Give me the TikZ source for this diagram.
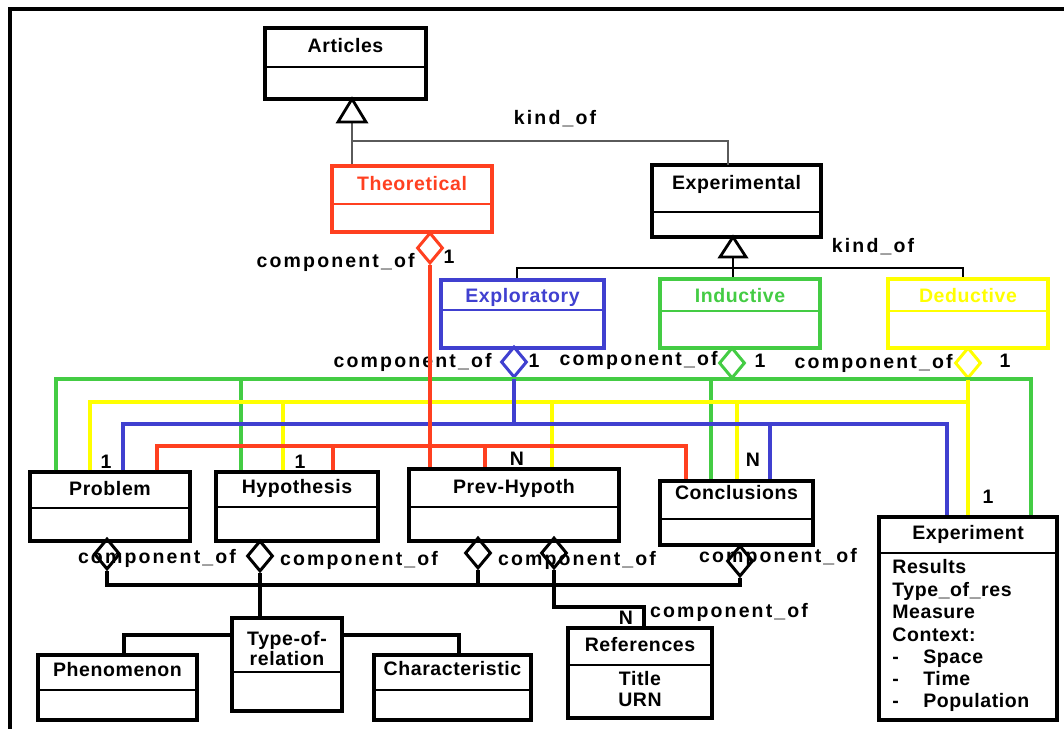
\documentclass[tikz,border=0pt]{standalone}
\usepackage{fontspec}
\setmainfont{Liberation Sans}
\newfontfamily\tfont{Liberation Sans}[LetterSpace=3]
\newfontfamily\lfont{Liberation Sans}[LetterSpace=11]
\usetikzlibrary{shapes.geometric,fit,calc}
\definecolor{ured}{HTML}{FF4020}
\definecolor{ublue}{HTML}{4040D0}
\definecolor{ugreen}{HTML}{44CC44}
\definecolor{uyellow}{HTML}{FFFF00}
\definecolor{ugray}{HTML}{5A5A5A}
\tikzset{
 ttl/.style={font=\tfont\bfseries\fontsize{11.1}{12}\selectfont, inner sep=0pt, text height=7.8pt, text depth=2pt},
 lbl/.style={font=\lfont\bfseries\fontsize{11.1}{12}\selectfont, inner sep=0pt, text height=7.8pt, text depth=2pt},
 ubox/.style={draw, inner sep=0pt, line width=1.9pt},
 divl/.style={line width=1.6pt},
 agg/.style={diamond, draw, inner sep=0pt, minimum width=0.52cm, minimum height=0.62cm, line width=1.7pt},
 con/.style={line width=1.8pt, line join=miter},
 gen/.style={line width=1.3pt, line join=miter},
 tri/.style={line width=1.6pt, fill=white, line join=miter}
}
% name, x1, y1, x2, y2, ydiv, colour, title y, title
\newcommand\umlbox[9]{%
 \coordinate (#1-a) at (#2,#3); \coordinate (#1-b) at (#4,#5);
 \node[ubox, draw=#7, fit=(#1-a)(#1-b)] (#1) {};
 \draw[divl, #7] (#2,#6) -- (#4,#6);
 \node[ttl, text=#7] (#1-t) at ({(#2+#4)/2},#8) {#9};
}
% colour, x, y of bus, target node
\newcommand\branch[4]{%
 \coordinate (b-#1-#2) at (#2,#3);
 \draw[con, #1] (b-#1-#2) -- (b-#1-#2 |- #4.north);
}
\begin{document}
\begin{tikzpicture}[x=0.02cm, y=-0.02cm]
\useasboundingbox (0,0) rectangle (1064,729);
% frame
\draw[line width=1.9pt] (10,729) -- (10,9) -- (1064,9);

% boxes
\umlbox{art}{265}{28}{426}{99}{67}{black}{47}{Articles}
\umlbox{theo}{332}{166}{492}{232}{204}{ured}{185}{Theoretical}
\umlbox{exp}{652}{165}{821}{237}{212}{black}{184}{Experimental}
\umlbox{expl}{441}{280}{604}{348}{310}{ublue}{297}{Exploratory}
\umlbox{ind}{660}{279}{820}{348}{311}{ugreen}{297}{Inductive}
\umlbox{ded}{888}{279}{1048}{348}{311}{uyellow}{297}{Deductive}
\umlbox{prob}{30}{472}{190}{541}{508}{black}{490}{Problem}
\umlbox{hyp}{216}{472}{378}{541}{507}{black}{488}{Hypothesis}
\umlbox{prev}{409}{469}{619}{541}{507}{black}{488}{Prev-Hypoth}
\umlbox{conc}{660}{481}{813}{545}{519}{black}{494}{Conclusions}
\umlbox{expt}{879}{517}{1057}{720}{553}{black}{534}{Experiment}
\umlbox{typ}{232}{618}{342}{711}{672}{black}{650}{}
\umlbox{phen}{38}{655}{197}{720}{690}{black}{671}{Phenomenon}
\umlbox{char}{374}{655}{531}{720}{690}{black}{670}{Characteristic}
\umlbox{refs}{568}{628}{712}{718}{665}{black}{646}{References}
\node[ttl] (typ-1) at (287,640) {Type-of-};
\node[ttl] (typ-2) at (287,660) {relation};
\node[ttl] (refs-1) at (640,680) {Title};
\node[ttl] (refs-2) at (640,701) {URN};
\foreach \t/\y [count=\i] in {Results/568, Type\_of\_res/591, Measure/613, Context:/636}
  \node[ttl, anchor=west] (expt-a\i) at (892,\y) {\t};
\foreach \t/\y [count=\i] in {Space/658, Time/680, Population/702}{
  \node[ttl, anchor=west] (expt-d\i) at (892,\y) {-};
  \node[ttl, anchor=west] (expt-b\i) at (923,\y) {\t};
}

% generalisation: Articles
\coordinate (g1) at (352,122);
\coordinate (g1h) at (352,141);
\draw[gen, ugray] (g1) -- (g1 |- theo.north);
\draw[gen, ugray] (g1h) -- (g1h -| 728,0) -- (728,165);
\draw[tri] (352,99) -- (366,122) -- (338,122) -- cycle;
\node[lbl] (k1) at (555,119) {kind\_of};
% generalisation: Experimental
\coordinate (g2) at (733,257);
\coordinate (g2l) at (517,268);
\coordinate (g2r) at (963,268);
\draw[gen] (g2) -- (g2 |- ind.north);
\draw[gen] (g2l |- expl.north) -- (g2l) -- (g2r) -- (g2r |- ded.north);
\draw[tri] (733,237) -- (746,257) -- (720,257) -- cycle;
\node[lbl] (k2) at (873,247) {kind\_of};

% aggregation diamonds (top)
\node[agg, draw=ured] (dT) at (430,248) {};
\node[agg, draw=ublue] (dE) at (514,362) {};
\node[agg, draw=ugreen] (dI) at (732,363) {};
\node[agg, draw=uyellow] (dD) at (968,363) {};
\node[lbl, anchor=east] (cT) at (415,262) {component\_of};
\node[lbl] (mT) at (449,258) {1};
\node[lbl, anchor=east] (cE) at (492,362) {component\_of};
\node[lbl] (mE) at (534,362) {1};
\node[lbl, anchor=east] (cI) at (718,360) {component\_of};
\node[lbl] (mI) at (760,362) {1};
\node[lbl, anchor=east] (cD) at (953,363) {component\_of};
\node[lbl] (mD) at (1005,362) {1};

% green bus
\coordinate (gl) at (56,379);
\coordinate (gr) at (1031,379);
\draw[con, ugreen] (gl |- prob.north) -- (gl) -- (gr) -- (gr |- expt.north);
\draw[con, ugreen] (dI.south) -- (dI.south |- gl);
\branch{ugreen}{241}{379}{hyp}
\branch{ugreen}{711}{379}{conc}
% yellow bus
\coordinate (yl) at (90,402);
\draw[con, uyellow] (yl |- prob.north) -- (yl) -- (yl -| dD.south);
\draw[con, uyellow] (dD.south) -- (dD.south |- expt.north);
\branch{uyellow}{283}{402}{hyp}
\branch{uyellow}{552}{402}{prev}
\branch{uyellow}{737}{402}{conc}
% blue bus
\coordinate (bl) at (123,424);
\coordinate (br) at (947,424);
\draw[con, ublue] (bl |- prob.north) -- (bl) -- (br) -- (br |- expt.north);
\draw[con, ublue] (dE.south) -- (dE.south |- bl);
\branch{ublue}{770}{424}{conc}
% red bus
\coordinate (rl) at (157,446);
\coordinate (rr) at (686,446);
\draw[con, ured] (rl |- prob.north) -- (rl) -- (rr) -- (rr |- conc.north);
\draw[con, ured] (dT.south) -- (dT.south |- prev.north);
\branch{ured}{333}{446}{hyp}
\branch{ured}{485}{446}{prev}
% multiplicities
\node[lbl] (m1) at (106,463) {1};
\node[lbl] (m2) at (300,463) {1};
\node[lbl] (m3) at (517,460) {N};
\node[lbl] (m4) at (753,461) {N};
\node[lbl] (m5) at (988,498) {1};

% bottom aggregation
\node[agg] (dP) at (107,554) {};
\node[agg] (dH) at (260,556) {};
\node[agg] (dPa) at (478,553) {};
\node[agg] (dPb) at (554,553) {};
\node[agg] (dC) at (740,561) {};
\coordinate (kb) at (0,585);
\draw[con] (dP.south) -- (dP.south |- kb) -- (dC.south |- kb) -- (dC.south);
\draw[con] (dPa.south) -- (dPa.south |- kb);
\draw[con] (dH.south) -- (dH.south |- typ.north);
\coordinate (rf) at (644,607);
\draw[con] (dPb.south) -- (dPb.south |- rf) -- (rf) -- (rf |- refs.north);
\coordinate (t1) at (124,635);
\coordinate (t2) at (459,635);
\draw[con] (t1 |- phen.north) -- (t1) -- (t1 -| typ.west);
\draw[con] (t2 |- char.north) -- (t2) -- (t2 -| typ.east);
\node[lbl] (c1) at (157,558) {component\_of};
\node[lbl] (c2) at (359,560) {component\_of};
\node[lbl] (c3) at (577,560) {component\_of};
\node[lbl] (c4) at (778,557) {component\_of};
\node[lbl] (c5) at (729,612) {component\_of};
\node[lbl] (m6) at (626,619) {N};
\end{tikzpicture}
\end{document}
